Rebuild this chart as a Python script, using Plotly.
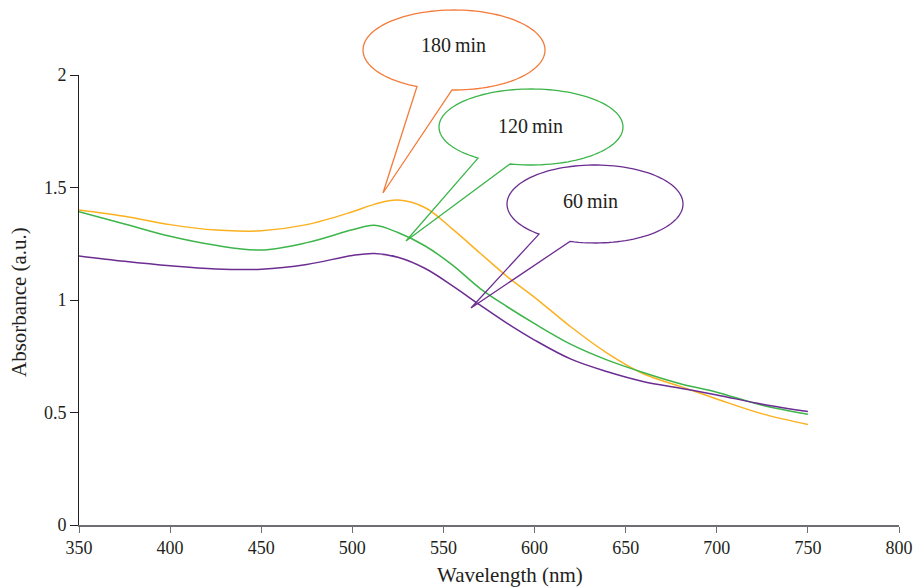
import numpy as np
import plotly.graph_objects as go

# ---- data ----
wavelength = [350, 375, 400, 425, 450, 475, 500, 512, 525, 540, 555, 570, 585, 600, 620, 640, 660, 680, 700, 725, 750]
abs_180 = [1.400, 1.372, 1.335, 1.311, 1.308, 1.335, 1.392, 1.425, 1.444, 1.410, 1.315, 1.209, 1.104, 1.012, 0.880, 0.763, 0.671, 0.616, 0.560, 0.494, 0.447]
abs_120 = [1.392, 1.338, 1.283, 1.243, 1.222, 1.255, 1.312, 1.332, 1.300, 1.240, 1.155, 1.052, 0.970, 0.895, 0.803, 0.733, 0.677, 0.628, 0.590, 0.532, 0.492]
abs_60 = [1.196, 1.172, 1.152, 1.138, 1.137, 1.158, 1.198, 1.207, 1.190, 1.140, 1.063, 0.978, 0.896, 0.822, 0.737, 0.681, 0.637, 0.608, 0.578, 0.537, 0.504]

x_ticks = [350, 400, 450, 500, 550, 600, 650, 700, 750, 800]
y_ticks = [0, 0.5, 1, 1.5, 2]
y_tick_text = ["0", "0.5", "1", "1.5", "2"]

labels = ["180\u2009min", "120\u2009min", "60\u2009min"]
line_colors = ["#FBB120", "#3DB54A", "#6B2D91"]
callout_colors = ["#F47B3A", "#3DB54A", "#6B2D91"]

x_title = "Wavelength (nm)"
y_title = "Absorbance (a.u.)"

FONT = "Liberation Serif"
TXT = "#231F20"

W, H = 917, 587
L, R, T, B = 79, 18, 75, 62
pw, ph = W - L - R, H - T - B

fig = go.Figure()
for ys, c, n in [(abs_180, line_colors[0], labels[0]),
                 (abs_120, line_colors[1], labels[1]),
                 (abs_60, line_colors[2], labels[2])]:
    fig.add_trace(go.Scatter(x=wavelength, y=ys, mode="lines", name=n,
                             line=dict(color=c, width=1.5, shape="spline", smoothing=1.0),
                             showlegend=False, hoverinfo="skip"))


def to_paper(px, py):
    return (px - L) / pw, (H - B - py) / ph


def callout_path(cx, cy, rx, ry, b1x, b2x, tip):
    t1 = np.arccos((b1x - cx) / rx)
    t2 = np.arccos((b2x - cx) / rx)
    thetas = np.linspace(t2, t1 - 2 * np.pi, 120)
    pts = [(cx + rx * np.cos(t), cy + ry * np.sin(t)) for t in thetas]
    pts.append(tip)
    d = ""
    for i, (px, py) in enumerate(pts):
        xp, yp = to_paper(px, py)
        d += ("M" if i == 0 else "L") + f"{xp:.5f},{yp:.5f} "
    return d + "Z"


# callout geometry (pixel-space layout)
callouts = [
    dict(c=(454, 50), r=(91, 40), b=(417, 452), tip=(383, 193), txt=(453, 45)),
    dict(c=(531, 127), r=(92, 38), b=(478, 510), tip=(406, 241), txt=(530, 126)),
    dict(c=(595, 204), r=(88, 39), b=(539, 570), tip=(471, 308), txt=(590, 201)),
]
for co, col, lab in zip(callouts, callout_colors, labels):
    fig.add_shape(type="path", xref="paper", yref="paper",
                  path=callout_path(co["c"][0], co["c"][1], co["r"][0], co["r"][1],
                                    co["b"][0], co["b"][1], co["tip"]),
                  line=dict(color=col, width=1.3), fillcolor="rgba(0,0,0,0)")
    tx, ty = to_paper(*co["txt"])
    fig.add_annotation(xref="paper", yref="paper", x=tx, y=ty, text=lab,
                       xanchor="center", yanchor="middle",
                       showarrow=False, font=dict(family=FONT, size=20, color=TXT))

# axis titles
tx, ty = to_paper(510, 575)
fig.add_annotation(xref="paper", yref="paper", x=tx, y=ty, text=x_title,
                   xanchor="center", yanchor="middle", showarrow=False,
                   font=dict(family=FONT, size=21, color=TXT))
tx, ty = to_paper(19, 302)
fig.add_annotation(xref="paper", yref="paper", x=tx, y=ty, text=y_title, textangle=-90,
                   xanchor="center", yanchor="middle", showarrow=False,
                   font=dict(family=FONT, size=21, color=TXT))

fig.update_layout(
    width=W, height=H,
    margin=dict(l=L, r=R, t=T, b=B, autoexpand=False),
    paper_bgcolor="white", plot_bgcolor="white",
    font=dict(family=FONT, size=18, color=TXT),
    xaxis=dict(range=[350, 800], tickvals=x_ticks, ticks="outside", ticklen=6,
               tickcolor="#6D6E71", showline=True, linecolor="#6D6E71", linewidth=1.5,
               showgrid=False, zeroline=False, automargin=False,
               tickfont=dict(family=FONT, size=18)),
    yaxis=dict(range=[0, 2], tickvals=y_ticks, ticktext=y_tick_text, ticks="outside", ticklen=8,
               tickcolor="#231F20", showline=True, linecolor="#231F20", linewidth=1,
               showgrid=False, zeroline=False, automargin=False,
               tickfont=dict(family=FONT, size=18)),
)

fig.write_html("out.html")
